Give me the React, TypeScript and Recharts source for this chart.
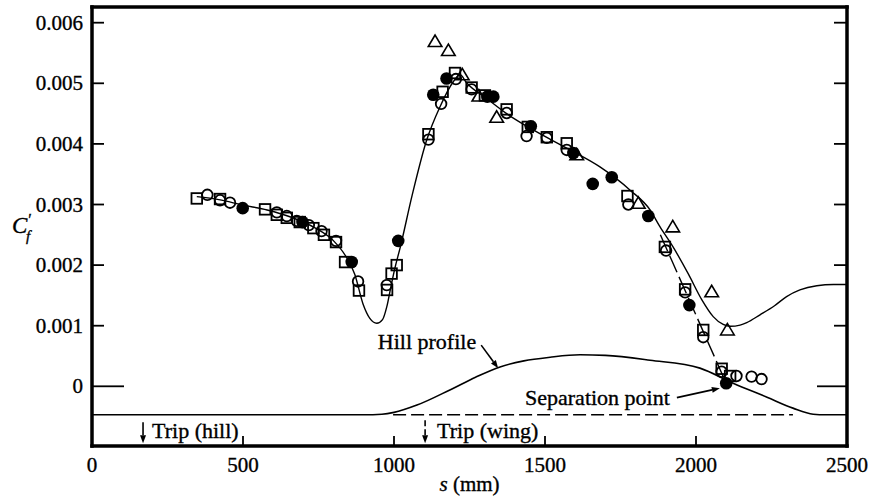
import { ComposedChart, Line, ReferenceDot, Scatter, XAxis, YAxis } from "recharts"

type Pt = [number, number]

const sTicks = [0, 500, 1000, 1500, 2000, 2500]
const cfTicks = [0, 0.001, 0.002, 0.003, 0.004, 0.005, 0.006]

// measured skin friction, one list per symbol
const squarePts: Pt[] = [
  [347, 0.0031], [424, 0.00309], [573, 0.00292], [612, 0.00283], [645, 0.00278],
  [688, 0.00271], [733, 0.00261], [768, 0.0025], [808, 0.00238], [838, 0.00205],
  [884, 0.00158], [977, 0.00159], [992, 0.00186], [1009, 0.002], [1114, 0.00416],
  [1161, 0.00486], [1202, 0.00517], [1257, 0.00493], [1301, 0.0048], [1373, 0.00457],
  [1443, 0.00428], [1506, 0.00411], [1572, 0.00401], [1773, 0.00314], [1897, 0.0023],
  [1964, 0.0016], [2024, 0.00093], [2085, 0.00029], [2113, 0.00017],
]

const circlePts: Pt[] = [
  [382, 0.00316], [424, 0.00307], [457, 0.00303], [612, 0.00287], [645, 0.00281],
  [678, 0.00273], [718, 0.00266], [760, 0.00256], [808, 0.0024], [881, 0.00173],
  [976, 0.00167], [1114, 0.00407], [1156, 0.00466], [1205, 0.00507], [1257, 0.0049],
  [1373, 0.00451], [1439, 0.00413], [1506, 0.0041], [1572, 0.0039], [1776, 0.003],
  [1901, 0.00224], [1964, 0.00155], [2024, 0.00081], [2085, 0.00024], [2134, 0.00017],
  [2184, 0.00016], [2217, 0.00012],
]

const filledPts: Pt[] = [
  [499, 0.00294], [697, 0.00271], [860, 0.00205], [1014, 0.0024], [1130, 0.00481],
  [1174, 0.00508], [1309, 0.00478], [1329, 0.00478], [1453, 0.00429], [1594, 0.00385],
  [1658, 0.00334], [1721, 0.00345], [1842, 0.00281], [1978, 0.00134], [2100, 0.00005],
]

const trianglePts: Pt[] = [
  [1136, 0.00569], [1180, 0.00554], [1226, 0.00514], [1281, 0.00479], [1340, 0.00444],
  [1605, 0.00382], [1809, 0.00302], [1923, 0.00263], [2052, 0.00156], [2104, 0.00093],
]

// fitted curves
const fitCurve: Pt[] = [
  [347, 0.00313], [420, 0.00308], [500, 0.00299], [580, 0.00291], [660, 0.00279],
  [740, 0.00261], [800, 0.0024], [840, 0.00215], [870, 0.00185], [898, 0.00135],
  [920, 0.00112], [943, 0.00104], [962, 0.0011], [976, 0.00131], [990, 0.00165],
  [1003, 0.00195], [1020, 0.00228], [1060, 0.00315], [1108, 0.00406], [1152, 0.00461],
  [1197, 0.00503], [1219, 0.00514], [1240, 0.00501], [1307, 0.00475], [1373, 0.0045],
  [1461, 0.00423], [1572, 0.00393], [1682, 0.00362], [1781, 0.00324], [1848, 0.00291],
  [1881, 0.00263], [1924, 0.0023], [1975, 0.00185], [2019, 0.00143], [2057, 0.00115],
  [2090, 0.00102], [2113, 0.00099], [2146, 0.00101], [2168, 0.00105], [2212, 0.00118],
  [2260, 0.00133], [2300, 0.00148], [2344, 0.00159], [2400, 0.00166], [2455, 0.00168],
  [2500, 0.00168],
]

const separationCurve: Pt[] = [
  [1882, 0.0025], [2100, 0.00005],
]

const hillProfile: Pt[] = [
  [0, -0.00047], [900, -0.00047], [960, -0.00046], [1000, -0.00043], [1076, -0.00031],
  [1185, -0.00006], [1270, 0.00015], [1351, 0.00032], [1430, 0.00042], [1517, 0.00048],
  [1616, 0.00052], [1700, 0.00051], [1848, 0.00043], [2013, 0.0003], [2123, 0.00005],
  [2235, -0.00018], [2321, -0.00036], [2388, -0.00046], [2430, -0.00047], [2500, -0.00047],
]

const hillBaseline: Pt[] = [
  [997, -0.00047], [2321, -0.00047],
]

// annotation anchors (arrow tips)
const hillNote: Pt = [1345, 0.0003]
const separationNote: Pt = [2079, -0.00003]
const tripHill: Pt = [169, -0.00094]
const tripWing: Pt = [1103, -0.00094]

const rows = (pts: Pt[]) => pts.map(([s, v]) => ({ s, v }))

const serif = "'Liberation Serif', 'Times New Roman', serif"
const frame = { stroke: "#000", strokeWidth: 3.5, strokeLinecap: "square" as const }
const ink = { fontFamily: serif, fill: "#000", stroke: "#000", strokeWidth: 0.35 }

function BottomTick({ x, y, payload }: any) {
  const v = payload.value
  return (
    <g>
      {v > 0 && v < 2500 && <line x1={x} x2={x} y1={y} y2={y - 10} stroke="#000" strokeWidth={1.8} />}
      <text x={x} y={y + 26} textAnchor="middle" fontSize={21} {...ink}>
        {v}
      </text>
    </g>
  )
}

function TopTick({ x, y, payload }: any) {
  const v = payload.value
  if (v <= 0 || v >= 2500) return <g />
  return <line x1={x} x2={x} y1={y} y2={y + 10} stroke="#000" strokeWidth={1.8} />
}

function LeftTick({ x, y, payload }: any) {
  const v = payload.value
  return (
    <g>
      <line x1={x} x2={x + (v === 0 ? 32 : 12)} y1={y} y2={y} stroke="#000" strokeWidth={1.8} />
      <text x={x - 9} y={y} dy="0.34em" textAnchor="end" fontSize={21} {...ink}>
        {v === 0 ? "0" : v.toFixed(3)}
      </text>
    </g>
  )
}

function RightTick({ x, y, payload }: any) {
  const v = payload.value
  return <line x1={x} x2={x - (v === 0 ? 30 : 13)} y1={y} y2={y} stroke="#000" strokeWidth={1.8} />
}

function CfLabel({ viewBox }: any) {
  const { x, y, height } = viewBox
  const base = y + height / 2 + 6
  return (
    <g>
      <text x={x + 12} y={base} fontSize={23} fontStyle="italic" {...ink}>
        C<tspan dx={1} dy={-8} fontSize={16} fontStyle="normal">′</tspan>
      </text>
      <text x={x + 26} y={base + 8} fontSize={15} fontStyle="italic" {...ink}>
        f
      </text>
    </g>
  )
}

function SLabel({ viewBox }: any) {
  const { x, y, width } = viewBox
  return (
    <text x={x + width / 2} y={y + 45} textAnchor="middle" fontSize={21} {...ink}>
      <tspan fontStyle="italic">s</tspan> (mm)
    </text>
  )
}

function Arrow({ x1, y1, x2, y2, dash }: { x1: number; y1: number; x2: number; y2: number; dash?: string }) {
  const a = Math.atan2(y2 - y1, x2 - x1)
  const len = 8
  const half = 3
  const bx = x2 - len * Math.cos(a)
  const by = y2 - len * Math.sin(a)
  const p1 = `${bx + half * Math.sin(a)},${by - half * Math.cos(a)}`
  const p2 = `${bx - half * Math.sin(a)},${by + half * Math.cos(a)}`
  return (
    <g>
      <line x1={x1} y1={y1} x2={bx} y2={by} stroke="#000" strokeWidth={1.6} strokeDasharray={dash} />
      <polygon points={`${x2},${y2} ${p1} ${p2}`} fill="#000" />
    </g>
  )
}

const noteText = { ...ink, fontSize: 22 }

const openCircle = (p: any) => (
  <circle cx={p.cx} cy={p.cy} r={5.3} fill="none" stroke="#000" strokeWidth={1.8} />
)
const openSquare = (p: any) => (
  <rect x={p.cx - 5.3} y={p.cy - 5.3} width={10.6} height={10.6} fill="none" stroke="#000" strokeWidth={1.8} />
)
const filledCircle = (p: any) => <circle cx={p.cx} cy={p.cy} r={6.3} fill="#000" />
const openTriangle = (p: any) => (
  <polygon
    points={`${p.cx},${p.cy - 6.5} ${p.cx - 6.8},${p.cy + 5} ${p.cx + 6.8},${p.cy + 5}`}
    fill="none"
    stroke="#000"
    strokeWidth={1.6}
  />
)

export default function App() {
  return (
    <div style={{ position: "absolute", left: 0, top: 0, width: 870, height: 499, background: "#fff" }}>
      <ComposedChart width={870} height={499} margin={{ top: 0, right: 0, bottom: 0, left: 0 }}>
        <XAxis
          type="number"
          dataKey="s"
          domain={[0, 2500]}
          ticks={sTicks}
          interval={0}
          allowDataOverflow
          height={53}
          tickSize={0}
          tickMargin={0}
          tickLine={false}
          axisLine={frame}
          tick={(p: any) => <BottomTick {...p} />}
          label={SLabel}
        />
        <XAxis
          xAxisId="top"
          orientation="top"
          type="number"
          domain={[0, 2500]}
          ticks={sTicks}
          interval={0}
          allowDataOverflow
          height={7}
          tickSize={0}
          tickMargin={0}
          tickLine={false}
          axisLine={frame}
          tick={(p: any) => <TopTick {...p} />}
        />
        <YAxis
          type="number"
          domain={[-0.000985, 0.006259]}
          ticks={cfTicks}
          interval={0}
          allowDataOverflow
          width={92}
          tickSize={0}
          tickMargin={0}
          tickLine={false}
          axisLine={frame}
          tick={(p: any) => <LeftTick {...p} />}
          label={CfLabel}
        />
        <YAxis
          yAxisId="right"
          orientation="right"
          type="number"
          domain={[-0.000985, 0.006259]}
          ticks={cfTicks}
          interval={0}
          allowDataOverflow
          width={23}
          tickSize={0}
          tickMargin={0}
          tickLine={false}
          axisLine={frame}
          tick={(p: any) => <RightTick {...p} />}
        />

        <Line data={rows(hillBaseline)} dataKey="v" type="linear" dot={false} stroke="#000" strokeWidth={1.5} strokeDasharray="13 5" isAnimationActive={false} />
        <Line data={rows(hillProfile)} dataKey="v" type="monotone" dot={false} stroke="#000" strokeWidth={1.6} isAnimationActive={false} />
        <Line data={rows(fitCurve)} dataKey="v" type="monotone" dot={false} stroke="#000" strokeWidth={1.4} isAnimationActive={false} />
        <Line data={rows(separationCurve)} dataKey="v" type="linear" dot={false} stroke="#000" strokeWidth={1.4} strokeDasharray="18 5" isAnimationActive={false} />

        <Scatter data={rows(squarePts)} dataKey="v" shape={openSquare} isAnimationActive={false} />
        <Scatter data={rows(circlePts)} dataKey="v" shape={openCircle} isAnimationActive={false} />
        <Scatter data={rows(trianglePts)} dataKey="v" shape={openTriangle} isAnimationActive={false} />
        <Scatter data={rows(filledPts)} dataKey="v" shape={filledCircle} isAnimationActive={false} />

        <ReferenceDot
          x={hillNote[0]}
          y={hillNote[1]}
          r={0}
          shape={(p: any) => (
            <g>
              <text x={p.cx - 22} y={p.cy - 19} textAnchor="end" {...noteText}>Hill profile</text>
              <Arrow x1={p.cx - 17} y1={p.cy - 23} x2={p.cx} y2={p.cy} />
            </g>
          )}
        />
        <ReferenceDot
          x={separationNote[0]}
          y={separationNote[1]}
          r={0}
          shape={(p: any) => (
            <g>
              <text x={p.cx - 50} y={p.cy + 17} textAnchor="end" {...noteText}>Separation point</text>
              <Arrow x1={p.cx - 43} y1={p.cy + 9.5} x2={p.cx} y2={p.cy} />
            </g>
          )}
        />
        <ReferenceDot
          x={tripHill[0]}
          y={tripHill[1]}
          r={0}
          shape={(p: any) => (
            <g>
              <text x={p.cx + 9} y={p.cy - 5} {...noteText}>Trip (hill)</text>
              <Arrow x1={p.cx} y1={p.cy - 21} x2={p.cx} y2={p.cy} />
            </g>
          )}
        />
        <ReferenceDot
          x={tripWing[0]}
          y={tripWing[1]}
          r={0}
          shape={(p: any) => (
            <g>
              <text x={p.cx + 12} y={p.cy - 5} {...noteText}>Trip (wing)</text>
              <Arrow x1={p.cx} y1={p.cy - 23} x2={p.cx} y2={p.cy} dash="6 3" />
            </g>
          )}
        />
      </ComposedChart>
    </div>
  )
}
